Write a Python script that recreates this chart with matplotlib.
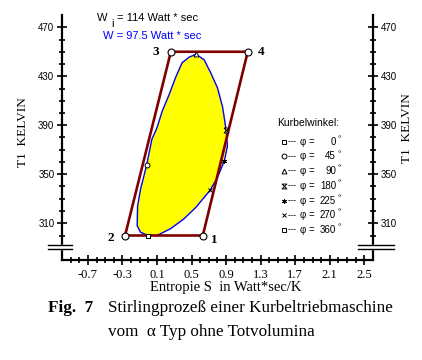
from matplotlib import pyplot as plt
from matplotlib.patches import Rectangle
from matplotlib.lines import Line2D
import numpy as np

# cycle corners 1 -> 2 -> 3 -> 4 (entropy, temperature)
corner_names = ["1", "2", "3", "4"]
corner_s = [0.63, -0.27, 0.26, 1.15]
corner_t = [300, 300, 450, 450]

# real process curve (traced), starting at phi = 0 going round
curve_s = [0.00, -0.09, -0.13, -0.125, -0.09, -0.02, 0.04, 0.10, 0.16, 0.24, 0.315,
           0.39, 0.47, 0.55, 0.645, 0.72, 0.80, 0.86, 0.90, 0.915, 0.88, 0.80,
           0.715, 0.55, 0.41, 0.255, 0.10, 0.00]
curve_t = [300, 302.6, 308, 324, 338, 357.5, 378.5, 388, 401.5, 415, 429,
           441, 445.5, 448, 443.5, 433, 420.5, 404.5, 386, 373, 361, 347.5,
           337, 323, 313.5, 305.5, 300, 300]

# crank angle marks
angles = [0, 45, 90, 180, 225, 270, 360]
angle_s = [0.00, -0.02, 0.55, 0.90, 0.88, 0.715, 0.00]
angle_t = [300, 357.5, 448, 386, 361, 337, 300]
hourglass = [(-1, 1), (1, 1), (-1, -1), (1, -1), (-1, 1)]
angle_markers = ['s', 'o', '^', hourglass, (6, 2, 0), 'x', 's']

w_i = "114"
w = "97.5"

W, H = 422, 360


def fx(x):
    return x / W


def fy(y):
    return 1 - y / H


fig = plt.figure(figsize=(W / 100, H / 100), dpi=100)
ax = fig.add_axes([fx(62), fy(260), (373 - 62) / W, (260 - 15) / H])

ax.fill(curve_s, curve_t, facecolor='#ffff00', edgecolor='#0000ff', linewidth=1.0, zorder=2)
cyc_s = corner_s + [corner_s[0]]
cyc_t = corner_t + [corner_t[0]]
ax.plot(cyc_s, cyc_t, color='#800000', linewidth=1.9, zorder=3)
ax.plot(corner_s, corner_t, 'o', mfc='white', mec='black', ms=5, mew=0.8, zorder=4)

offsets = {"1": (8, -3), "2": (-10, -2), "3": (-11, 0), "4": (10, 0)}
for name, s, t in zip(corner_names, corner_s, corner_t):
    ax.annotate(name, (s, t), xytext=offsets[name], textcoords='offset points',
                ha='center', va='center', fontsize=9.5, fontweight='bold',
                family='Liberation Serif')

for m, s, t in zip(angle_markers, angle_s, angle_t):
    ax.plot([s], [t], marker=m, ms=3.5, mfc='white', mec='black', mew=0.7, ls='none', zorder=5)

ax.set_xlim(-1.0, 2.6)
ax.set_ylim(280, 480)
ax.set_xticks(np.arange(-0.7, 2.6, 0.4))
ax.set_xticks(np.arange(-0.9, 2.55, 0.1), minor=True)
ax.set_xticklabels(["%.1f" % v for v in np.arange(-0.7, 2.6, 0.4)],
                   family='Liberation Serif', fontsize=9)
ax.set_yticks(np.arange(310, 471, 40))
ax.set_yticks(np.arange(300, 471, 10), minor=True)
ax.tick_params(axis='y', which='both', left=True, right=True, labelleft=True,
               labelright=True, labelsize=7, direction='inout', width=1.2, pad=2)
ax.tick_params(axis='x', which='both', direction='inout', width=1.2, pad=3)
ax.tick_params(which='major', length=7)
ax.tick_params(which='minor', length=4)
for lab in ax.get_yticklabels():
    lab.set_family('Liberation Sans')

ax.spines['top'].set_visible(False)
for side in ['left', 'right', 'bottom']:
    ax.spines[side].set_linewidth(1.6)

# axis breaks
for x0, x1 in [(48, 72), (358, 394)]:
    mid = (62 if x0 < 100 else 373)
    fig.add_artist(Rectangle((fx(mid - 3), fy(248.5)), 6 / W, 4 / H,
                             transform=fig.transFigure, color='white', zorder=5))
    for y in [244.5, 249]:
        fig.add_artist(Line2D([fx(x0), fx(x1)], [fy(y), fy(y)], color='black',
                              linewidth=1.0, transform=fig.transFigure, zorder=6))

fig.text(fx(23), fy(132), "T1  KELVIN", rotation=90, ha='center', va='center',
         family='Liberation Serif', fontsize=9.5)
fig.text(fx(407), fy(128), "T1  KELVIN", rotation=90, ha='center', va='center',
         family='Liberation Serif', fontsize=9.5)
fig.text(fx(150), fy(288), "Entropie S  in Watt*sec/K", ha='left', va='center',
         family='Liberation Serif', fontsize=10.5)

# work text
sans = ['Liberation Sans', 'DejaVu Sans']
fig.text(fx(97), fy(18), "W", ha='left', va='center', family=sans, fontsize=8)
fig.text(fx(111), fy(24), "i", ha='left', va='center', family=sans, fontsize=8)
fig.text(fx(117), fy(18), "= %s Watt * sec" % w_i, ha='left', va='center', family=sans, fontsize=8)
fig.text(fx(103), fy(36), "W = %s Watt * sec" % w, ha='left', va='center', family=sans,
         fontsize=8, color='#0000ff')

# legend of crank angles
fig.text(fx(277), fy(123), "Kurbelwinkel:", ha='left', va='center', family=sans, fontsize=7.5)
for i, (m, a) in enumerate(zip(angle_markers, angles)):
    y = 141.7 + 14.7 * i
    fig.add_artist(Line2D([fx(283.5)], [fy(y)], marker=m, ms=3.5, mfc='white', mec='black',
                          mew=0.7, ls='none', transform=fig.transFigure))
    fig.text(fx(288), fy(y), "---", ha='left', va='center', family=sans, fontsize=6.5)
    fig.text(fx(300), fy(y), "\u03c6 =", ha='left', va='center', family=sans, fontsize=7)
    fig.text(fx(336), fy(y), "%d" % a, ha='right', va='center', family=sans, fontsize=7)
    fig.text(fx(338), fy(y - 2), "\u00b0", ha='left', va='center', family=sans, fontsize=6)

fig.text(fx(48), fy(308), "Fig.  7", ha='left', va='center', family='Liberation Serif',
         fontsize=12.3, fontweight='bold')
fig.text(fx(108), fy(308), "Stirlingprozeß einer Kurbeltriebmaschine", ha='left', va='center',
         family='Liberation Serif', fontsize=12.3)
fig.text(fx(108), fy(332), "vom  \u03b1 Typ ohne Totvolumina", ha='left', va='center',
         family='Liberation Serif', fontsize=12.3)

fig.savefig("out.png", dpi=100)
